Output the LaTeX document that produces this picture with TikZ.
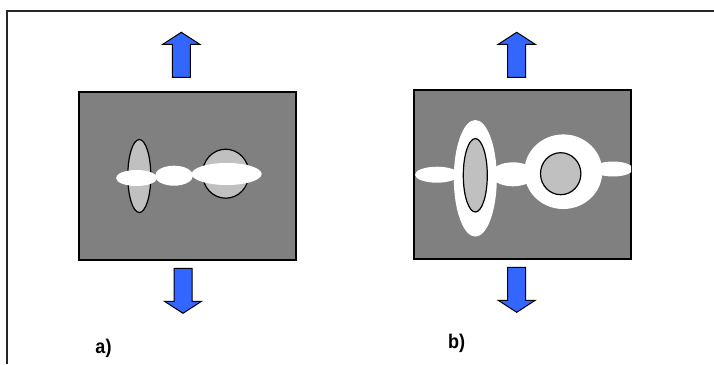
\documentclass[tikz,border=0pt]{standalone}
\usepackage{fontspec}
\setmainfont{Liberation Sans}
\usetikzlibrary{positioning}
\definecolor{arrowblue}{RGB}{51,102,255}
\definecolor{boxgray}{RGB}{128,128,128}
\definecolor{cellgray}{RGB}{192,192,192}
\tikzset{
    panel/.style={fill=boxgray, draw=black, line width=1.5pt},   % fondo gris de cada caso
    cell/.style={fill=cellgray, draw=black, line width=1.2pt},   % inclusiones grises
    void/.style={fill=white, draw=none},                         % zonas blancas
    labeltext/.style={font=\bfseries\fontsize{18}{18}\selectfont, inner sep=0pt},
    fatarrow/.pic={
        \draw[fill=arrowblue, line width=1pt, line join=miter]
            (-9,0) -- (-9,-33) -- (-18.5,-33) -- (0,-45) -- (18.5,-33) -- (9,-33) -- (9,0) -- cycle;
    }
}
\begin{document}
\begin{tikzpicture}[x=1pt, y=-1pt]
    \useasboundingbox (0,0) rectangle (714,364);
    % marco exterior
    \draw[line width=2pt, draw=black!85] (714,11) -- (7.3,11) -- (7.3,364);

    % caso a)
    \draw[panel] (79,92) rectangle (296,260);
    \begin{scope}
        \clip (79,92) rectangle (296,260);
        \draw[cell] (139.3,176) ellipse [x radius=11.5, y radius=36.5];
        \draw[cell] (225.7,173.7) ellipse [x radius=23.2, y radius=24.5];
        \fill[void] (136.5,178) ellipse [x radius=20.5, y radius=8];
        \fill[void] (174,175.7) ellipse [x radius=19, y radius=10];
        \fill[void] (226.7,174) ellipse [x radius=35, y radius=11];
    \end{scope}
    \pic at (181.3,77.3) {fatarrow};
    \pic[rotate=180] at (183,268.3) {fatarrow};
    \node[labeltext, yscale=1.1] (lbla) at (103.5,348.5) {a)};

    % caso b)
    \draw[panel] (414,90) rectangle (631,259);
    \begin{scope}
        \clip (414,90) rectangle (631,259);
        \fill[void] (437,174.7) ellipse [x radius=22, y radius=8];
        \fill[void] (513,174.3) ellipse [x radius=22, y radius=12];
        \fill[void] (613,169) ellipse [x radius=20, y radius=7.5];
        \fill[void] (475.3,178.3) ellipse [x radius=21.5, y radius=58.3];
        \fill[void] (563.3,171.7) ellipse [x radius=39, y radius=37.3];
        \draw[cell] (475.3,175.3) ellipse [x radius=12, y radius=36.7];
        \draw[cell] (560.7,173.7) ellipse [x radius=20.2, y radius=21];
    \end{scope}
    \pic at (516.7,77.3) {fatarrow};
    \pic[rotate=180] at (516.7,267.3) {fatarrow};
    \node[labeltext, yscale=1.1] (lblb) at (456.5,343.5) {b)};
\end{tikzpicture}
\end{document}
